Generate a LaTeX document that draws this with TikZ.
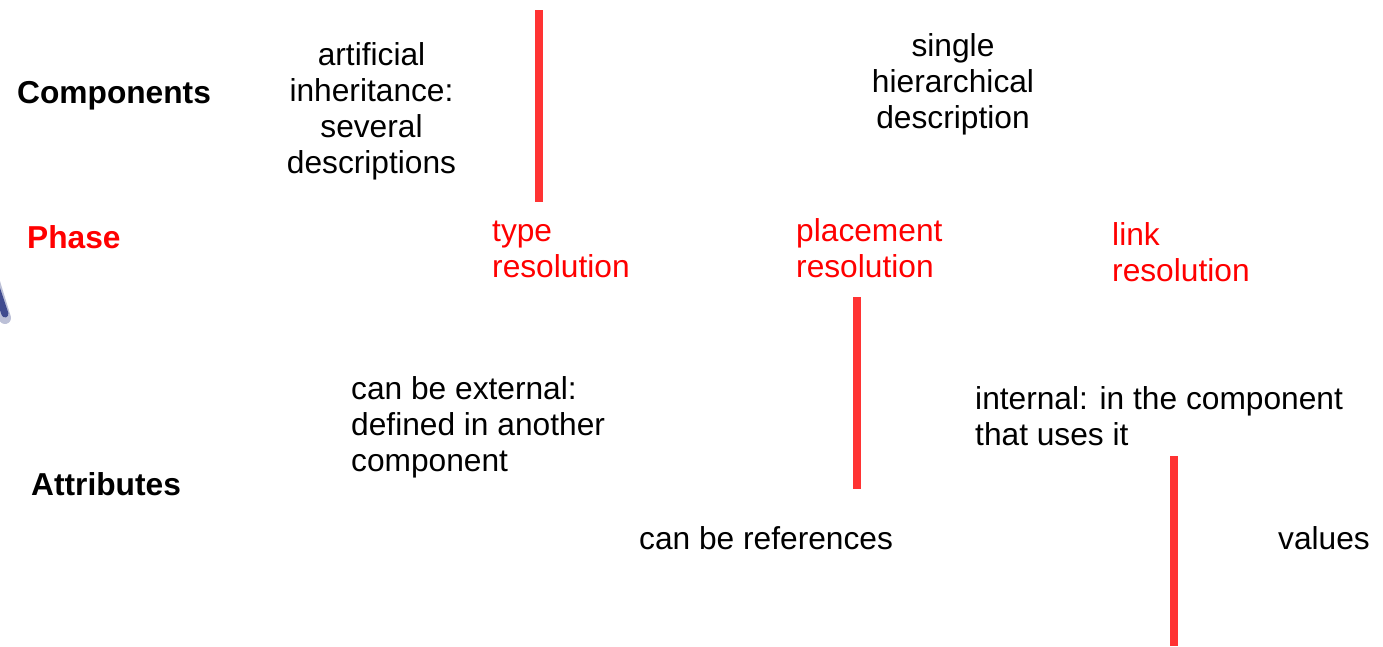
\documentclass[tikz,border=0pt]{standalone}
\usepackage{fontspec}
\setmainfont{Liberation Sans}
\definecolor{barred}{HTML}{FF3333}
\definecolor{inkblue}{HTML}{23307E}
\begin{document}
\begin{tikzpicture}[x=1pt,y=-1pt,
  txt/.style={inner sep=0pt,font=\fontsize{31.7}{36}\selectfont},
  head/.style={txt,font=\fontsize{31.7}{36}\selectfont\bfseries},
  phase/.style={txt,text=red,align=left,anchor=base west},
  note/.style={txt,align=left,anchor=base west},
  bar/.style={fill=barred}]
\useasboundingbox (0,0) rectangle (1383,646);
\fill[white] (0,0) rectangle (1383,646);

% row headings
\node[head,anchor=base west] (components) at (17,103) {Components};
\node[head,anchor=base west,text=red] (phase) at (27,248) {Phase};
\node[head,anchor=base west] (attributes) at (31,495) {Attributes};

% component descriptions (anchored at the baseline of the last line)
\node[txt,align=center,anchor=base] (artificial) at (371.5,173)
  {artificial\\inheritance:\\several\\descriptions};
\node[txt,align=center,anchor=base] (single) at (953,128)
  {single\\hierarchical\\description};

% resolution phases
\node[phase] (typeres) at (492,277) {type\\resolution};
\node[phase] (placeres) at (796,277) {placement\\resolution};
\node[phase] (linkres) at (1112,281) {link\\resolution};

% attribute kinds
\node[note] (external) at (351,471) {can be external:\\defined in another\\component};
\node[note] (internal) at (975,445) {internal: in the component\\that uses it};
\node[note] (refs) at (639,549) {can be references};
\node[note] (values) at (1278,549) {values};

% phase boundaries
\fill[bar] (535,10) rectangle (543,202);
\fill[bar] (853,297) rectangle (861,489);
\fill[bar] (1170,456) rectangle (1178,646);

% clipped stroke at the left edge
\draw[inkblue!60,line width=12pt,opacity=0.5,line cap=round] (-6,282) -- (5,318);
\draw[inkblue,line width=7pt,opacity=0.8,line cap=round] (-5,284) -- (5,314);
\end{tikzpicture}
\end{document}
